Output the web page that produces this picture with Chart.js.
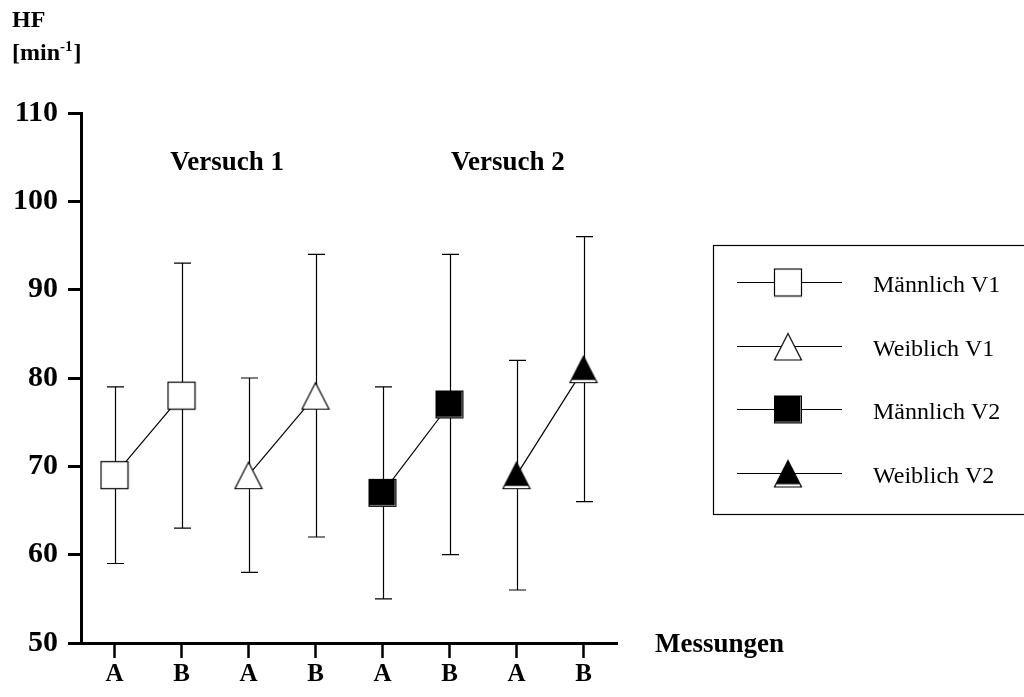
<!DOCTYPE html>
<html lang="de">
<head>
<meta charset="utf-8">
<title>HF – Messungen A/B</title>
<script src="https://cdn.jsdelivr.net/npm/chart.js@4.4.1/dist/chart.umd.min.js"></script>
<style>
  html, body { margin: 0; padding: 0; background: #fff; }
  canvas { display: block; }
</style>
</head>
<body>
<canvas id="chart" width="1024" height="697"></canvas>
<script>
// Messzeitpunkte auf der x-Achse
const xLabels = ['A', 'B', 'A', 'B', 'A', 'B', 'A', 'B'];

// Skala der Herzfrequenz
const yMin = 50;
const yMax = 110;
const yStep = 10;

// Mittelwerte je Gruppe (A/B pro Versuch)
const maennlichV1 = [69, 78, null, null, null, null, null, null];
const weiblichV1  = [null, null, 69, 78, null, null, null, null];
const maennlichV2 = [null, null, null, null, 67, 77, null, null];
const weiblichV2  = [null, null, null, null, null, null, 69, 81];

// Standardabweichungen (Fehlerbalken)
const maennlichV1Sd = [10, 15, null, null, null, null, null, null];
const weiblichV1Sd  = [null, null, 11, 16, null, null, null, null];
const maennlichV2Sd = [null, null, null, null, 12, 17, null, null];
const weiblichV2Sd  = [null, null, null, null, null, null, 13, 15];

const seriesNames = ['Männlich V1', 'Weiblich V1', 'Männlich V2', 'Weiblich V2'];
const groupTitles = ['Versuch 1', 'Versuch 2'];
const xAxisTitle = 'Messungen';

const SERIF = "'Liberation Serif', 'Times New Roman', Times, serif";

// Symbole als kleine Canvas-Bilder
function makeMarker(shape, filled) {
  const c = document.createElement('canvas');
  c.width = 30; c.height = 30;
  const g = c.getContext('2d');
  g.strokeStyle = '#000';
  g.lineWidth = 1.2;
  if (shape === 'square') {
    if (!filled) {
      g.fillStyle = '#fff';
      g.fillRect(1, 1, 28, 28);
      g.strokeRect(1.5, 1.5, 27, 27);
    } else {
      g.fillStyle = '#fff';
      g.fillRect(1, 1, 28, 28);
      g.fillStyle = '#000';
      g.fillRect(1, 1, 26.5, 26.5);
      g.lineWidth = 1;
      g.strokeRect(1.5, 1.5, 27, 27);
    }
  } else {
    g.beginPath();
    g.moveTo(15, 2);
    g.lineTo(28.5, 28.5);
    g.lineTo(1.5, 28.5);
    g.closePath();
    g.fillStyle = '#fff';
    g.fill();
    g.stroke();
    if (filled) {
      g.beginPath();
      g.moveTo(15, 2);
      g.lineTo(27.1, 25.8);
      g.lineTo(2.9, 25.8);
      g.closePath();
      g.fillStyle = '#000';
      g.fill();
    }
  }
  return c;
}

const markers = [
  makeMarker('square', false),
  makeMarker('triangle', false),
  makeMarker('square', true),
  makeMarker('triangle', true)
];

const seriesValues = [maennlichV1, weiblichV1, maennlichV2, weiblichV2];
const seriesErrors = [maennlichV1Sd, weiblichV1Sd, maennlichV2Sd, weiblichV2Sd];

const datasets = seriesNames.map((name, i) => ({
  label: name,
  data: seriesValues[i],
  errors: seriesErrors[i],
  borderColor: '#000',
  borderWidth: 1.2,
  pointStyle: markers[i],
  pointRadius: 15,
  pointHoverRadius: 15,
  fill: false,
  tension: 0,
  spanGaps: false
}));

// Fehlerbalken hinter Linien und Symbolen
const errorBars = {
  id: 'errorBars',
  beforeDatasetsDraw(chart) {
    const ctx = chart.ctx;
    const y = chart.scales.y;
    ctx.save();
    ctx.strokeStyle = '#000';
    ctx.lineWidth = 1.2;
    chart.data.datasets.forEach((ds, d) => {
      const meta = chart.getDatasetMeta(d);
      meta.data.forEach((pt, i) => {
        const v = ds.data[i];
        const sd = ds.errors[i];
        if (v == null || sd == null) return;
        const x = Math.round(pt.x) + 0.5;
        const top = y.getPixelForValue(v + sd);
        const bot = y.getPixelForValue(v - sd);
        ctx.beginPath();
        ctx.moveTo(x, top); ctx.lineTo(x, bot);
        ctx.moveTo(x - 8.5, top); ctx.lineTo(x + 8.5, top);
        ctx.moveTo(x - 8.5, bot); ctx.lineTo(x + 8.5, bot);
        ctx.stroke();
      });
    });
    ctx.restore();
  }
};

// Beschriftungen, Achsentitel und Legende
const decorations = {
  id: 'decorations',
  afterDraw(chart) {
    const ctx = chart.ctx;
    const xs = chart.scales.x;
    const ys = chart.scales.y;
    ctx.save();
    ctx.fillStyle = '#000';
    ctx.textBaseline = 'alphabetic';

    // y-Achsentitel
    ctx.textAlign = 'left';
    ctx.font = 'bold 24px ' + SERIF;
    ctx.fillText('HF', 12, 27);
    const base = '[min';
    ctx.fillText(base, 12, 60);
    let w = ctx.measureText(base).width;
    ctx.font = 'bold 15px ' + SERIF;
    ctx.fillText('-1', 12 + w, 51);
    const w2 = ctx.measureText('-1').width;
    ctx.font = 'bold 24px ' + SERIF;
    ctx.fillText(']', 12 + w + w2 + 1, 60);

    // Versuchstitel
    ctx.textAlign = 'center';
    ctx.font = 'bold 27px ' + SERIF;
    ctx.fillText(groupTitles[0], xs.getPixelForValue(1.68), ys.getPixelForValue(103.6));
    ctx.fillText(groupTitles[1], xs.getPixelForValue(5.87), ys.getPixelForValue(103.6));

    // x-Achsentitel
    ctx.textAlign = 'left';
    ctx.font = 'bold 27px ' + SERIF;
    ctx.fillText(xAxisTitle, 655, 652);

    // Legende
    ctx.strokeStyle = '#000';
    ctx.lineWidth = 1.2;
    ctx.strokeRect(713.5, 245.5, 400, 269);
    ctx.font = '24px ' + SERIF;
    chart.data.datasets.forEach((ds, i) => {
      const ry = Math.round(282 + i * 63.7) + 0.5;
      ctx.beginPath();
      ctx.moveTo(737, ry);
      ctx.lineTo(842, ry);
      ctx.stroke();
      const m = markers[i];
      ctx.drawImage(m, 788 - m.width / 2, ry - m.height / 2);
      ctx.fillText(ds.label, 873, ry + 9.5);
    });
    ctx.restore();
  }
};

new Chart(document.getElementById('chart'), {
  type: 'line',
  data: { labels: xLabels, datasets },
  plugins: [errorBars, decorations],
  options: {
    responsive: false,
    animation: false,
    events: [],
    layout: { padding: { top: 113, right: 407, left: 0, bottom: 0 } },
    plugins: { legend: { display: false }, tooltip: { enabled: false } },
    scales: {
      x: {
        type: 'category',
        offset: true,
        border: { display: true, color: '#000', width: 3 },
        grid: { display: true, drawOnChartArea: false, drawTicks: true, tickLength: 15, tickWidth: 2.5, tickColor: '#000' },
        ticks: { color: '#000', font: { family: SERIF, size: 25, weight: 'bold' }, padding: 2, maxRotation: 0, autoSkip: false },
        afterFit(s) { s.height = 54; }
      },
      y: {
        min: yMin,
        max: yMax,
        border: { display: true, color: '#000', width: 3 },
        grid: { display: true, drawOnChartArea: false, drawTicks: true, tickLength: 13, tickWidth: 3, tickColor: '#000' },
        ticks: { stepSize: yStep, color: '#000', font: { family: SERIF, size: 30, weight: 'bold' }, padding: 10 },
        afterFit(s) { s.width = 81; }
      }
    }
  }
});
</script>
</body>
</html>
